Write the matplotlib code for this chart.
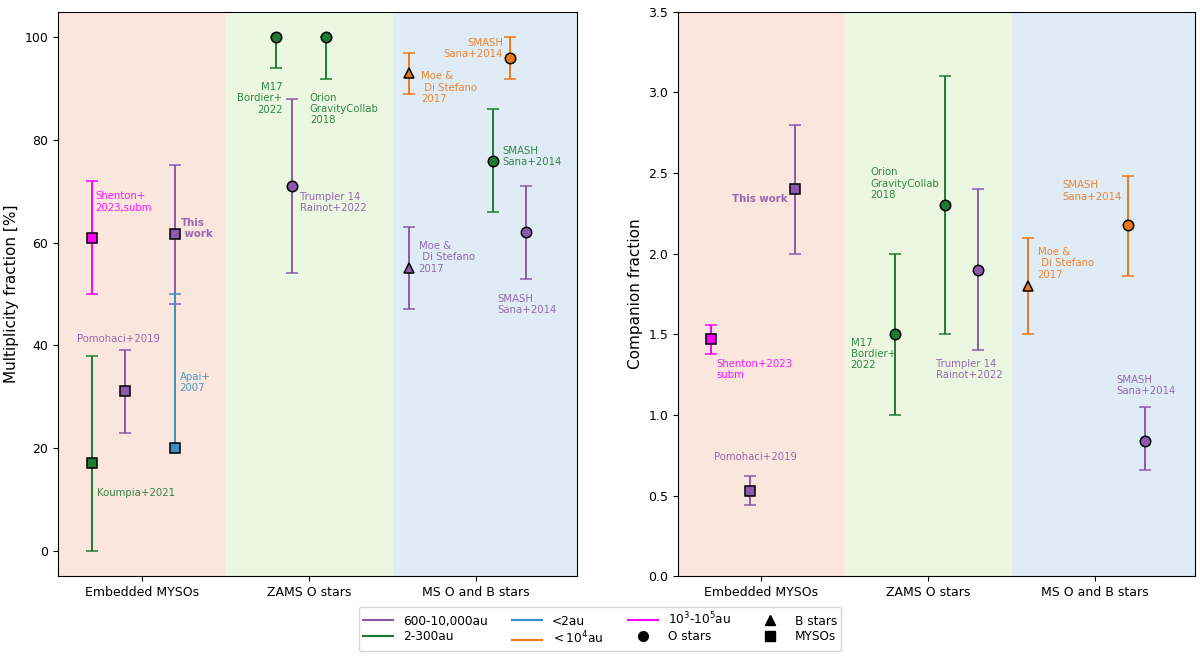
import matplotlib.pyplot as plt
from matplotlib.lines import Line2D

PURPLE = "#8c5aaa"
GREEN = "#1e7b33"
ORANGE = "#f07818"
BLUE = "#3a8fc4"
MAGENTA = "#ff00ff"

categories = ["Embedded MYSOs", "ZAMS O stars", "MS O and B stars"]
bg_colors = ["#fbe6dd", "#ecf7e1", "#e0ecf5"]

# left panel: multiplicity fraction [%]
mf_x = [-0.3, 0.2, -0.1, -0.3, 0.2, 0.8, 1.1, 0.9, 1.6, 2.2, 2.1, 1.6, 2.3]
mf_val = [61, 61.6, 31, 17, 20, 100, 100, 71, 93, 96, 76, 55, 62]
mf_lo = [11, 13.5, 8, 17, 0, 6, 8, 17, 4, 4, 10, 8, 9]
mf_hi = [11, 13.5, 8, 21, 30, 0, 0, 17, 4, 4, 10, 8, 9]
mf_col = [MAGENTA, PURPLE, PURPLE, GREEN, BLUE, GREEN, GREEN, PURPLE,
          ORANGE, ORANGE, GREEN, PURPLE, PURPLE]
mf_mark = ["s", "s", "s", "s", "s", "o", "o", "o", "^", "o", "o", "^", "o"]

# right panel: companion fraction
cf_x = [-0.3, -0.07, 0.2, 0.8, 1.1, 1.3, 1.6, 2.2, 2.3]
cf_val = [1.47, 0.53, 2.40, 1.50, 2.30, 1.90, 1.80, 2.18, 0.84]
cf_lo = [0.09, 0.09, 0.40, 0.50, 0.80, 0.50, 0.30, 0.32, 0.18]
cf_hi = [0.09, 0.09, 0.40, 0.50, 0.80, 0.50, 0.30, 0.30, 0.21]
cf_col = [MAGENTA, PURPLE, PURPLE, GREEN, GREEN, PURPLE, ORANGE, ORANGE, PURPLE]
cf_mark = ["s", "s", "s", "o", "o", "o", "^", "o", "o"]

# annotations: (x, y, text, colour, ha, va, bold)
mf_notes = [
    (-0.28, 70.0, "Shenton+\n2023,subm", MAGENTA, "left", "top", False),
    (0.235, 64.8, "This\n work", PURPLE, "left", "top", True),
    (-0.39, 41.3, "Pomohaci+2019", PURPLE, "left", "center", False),
    (0.225, 34.8, "Apai+\n2007", BLUE, "left", "top", False),
    (-0.265, 11.2, "Koumpia+2021", GREEN, "left", "center", False),
    (0.84, 91.3, "M17\nBordier+\n2022", GREEN, "right", "top", False),
    (1.005, 89.2, "Orion\nGravityCollab\n2018", GREEN, "left", "top", False),
    (0.945, 69.9, "Trumpler 14\nRainot+2022", PURPLE, "left", "top", False),
    (1.672, 93.4, "Moe &\n Di Stefano\n2017", ORANGE, "left", "top", False),
    (2.16, 99.9, "SMASH\nSana+2014", ORANGE, "right", "top", False),
    (2.155, 78.8, "SMASH\nSana+2014", GREEN, "left", "top", False),
    (1.655, 60.3, "Moe &\n Di Stefano\n2017", PURPLE, "left", "top", False),
    (2.125, 50.0, "SMASH\nSana+2014", PURPLE, "left", "top", False),
]
cf_notes = [
    (0.156, 2.34, "This work", PURPLE, "right", "center", True),
    (0.655, 2.535, "Orion\nGravityCollab\n2018", GREEN, "left", "top", False),
    (1.805, 2.455, "SMASH\nSana+2014", ORANGE, "left", "top", False),
    (1.655, 2.04, "Moe &\n Di Stefano\n2017", ORANGE, "left", "top", False),
    (-0.27, 1.35, "Shenton+2023\nsubm", MAGENTA, "left", "top", False),
    (0.535, 1.48, "M17\nBordier+\n2022", GREEN, "left", "top", False),
    (1.047, 1.35, "Trumpler 14\nRainot+2022", PURPLE, "left", "top", False),
    (2.125, 1.25, "SMASH\nSana+2014", PURPLE, "left", "top", False),
    (-0.287, 0.742, "Pomohaci+2019", PURPLE, "left", "center", False),
]


def draw_panel(ax, xs, vals, lo, hi, cols, marks, notes):
    for i, name in enumerate(categories):
        right = i + 0.5 if i < 2 else 2.6
        ax.axvspan(i - 0.5, right, color=bg_colors[i], lw=0, zorder=0)
    for x, v, l, h, c, m in zip(xs, vals, lo, hi, cols, marks):
        ax.errorbar([x], [v], yerr=[[l], [h]], fmt=m, color=c, mfc=c,
                    mec="black", mew=1.1, ms=7.5 if m != "s" else 7,
                    elinewidth=1.4, capsize=4.6, capthick=1.4, zorder=3)
    for x, y, t, c, ha, va, bold in notes:
        ax.text(x, y, t, color=c, ha=ha, va=va, fontsize=7.3,
                fontweight="bold" if bold else "normal", alpha=0.9,
                linespacing=1.15, zorder=4)
    ax.set_xlim(-0.5, 2.6)
    ax.set_xticks(range(3))
    ax.set_xticklabels(categories)
    ax.tick_params(labelsize=9)


fig = plt.figure(figsize=(12, 6.57), dpi=100)
ax1 = fig.add_axes([0.0485, 0.123, 0.432, 0.859])
ax2 = fig.add_axes([0.565, 0.123, 0.431, 0.859])

draw_panel(ax1, mf_x, mf_val, mf_lo, mf_hi, mf_col, mf_mark, mf_notes)
ax1.set_ylim(-5, 105)
ax1.set_yticks([0, 20, 40, 60, 80, 100])
ax1.set_ylabel("Multiplicity fraction [%]", fontsize=11)

draw_panel(ax2, cf_x, cf_val, cf_lo, cf_hi, cf_col, cf_mark, cf_notes)
ax2.set_ylim(0, 3.5)
ax2.set_ylabel("Companion fraction", fontsize=11)

handles = [
    Line2D([], [], color=PURPLE, lw=1.5, label="600-10,000au"),
    Line2D([], [], color=GREEN, lw=1.5, label="2-300au"),
    Line2D([], [], color=BLUE, lw=1.5, label="<2au"),
    Line2D([], [], color=ORANGE, lw=1.5, label=r"$<10^4$au"),
    Line2D([], [], color=MAGENTA, lw=1.5, label=r"$10^3$-$10^5$au"),
    Line2D([], [], color="black", marker="o", ls="", ms=7, label="O stars"),
    Line2D([], [], color="black", marker="^", ls="", ms=7, label="B stars"),
    Line2D([], [], color="black", marker="s", ls="", ms=7, label="MYSOs"),
]
fig.legend(handles=handles, loc="lower center", ncol=4, fontsize=8.7,
           bbox_to_anchor=(0.5, 0.0), columnspacing=2.0, handlelength=2.5,
           labelspacing=0.2, borderpad=0.35)

fig.savefig("out.png", dpi=100)
